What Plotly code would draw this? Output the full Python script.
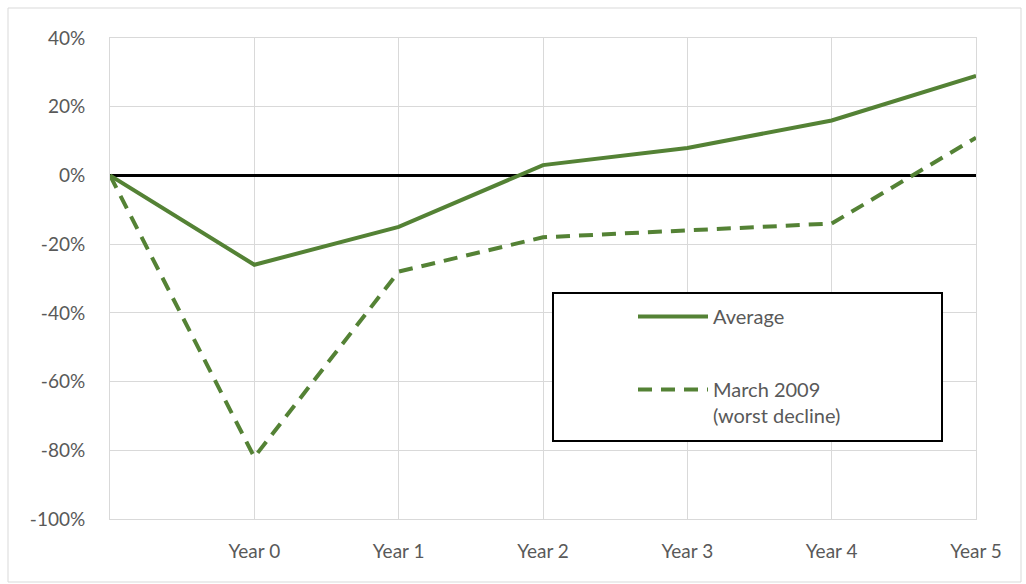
import plotly.graph_objects as go

categories = ["", "Year 0", "Year 1", "Year 2", "Year 3", "Year 4", "Year 5"]
average = [0, -26, -15, 3, 8, 16, 29]
march_2009 = [0, -82, -28, -18, -16, -14, 11]
y_ticks = [40, 20, 0, -20, -40, -60, -80, -100]
y_tick_labels = [f"{v}%" for v in y_ticks]

GREEN = "#548235"
FONT = "Lato"
TXT = "#595959"

fig = go.Figure()
fig.add_trace(go.Scatter(
    x=categories, y=average, mode="lines", name="Average",
    line=dict(color=GREEN, width=4), legendgroup="a"))
fig.add_trace(go.Scatter(
    x=categories, y=march_2009, mode="lines", name="March 2009<br>(worst decline)",
    line=dict(color=GREEN, width=4, dash="14px,9px"), legendgroup="b"))

W, H = 1026, 584
L, R, T, B = 110, 50, 38, 65
pw, ph = W - L - R, H - T - B

def px_x(x):
    return (x - L) / pw

def px_y(y):
    return (H - B - y) / ph

fig.update_layout(
    width=W, height=H,
    margin=dict(l=L, r=R, t=T, b=B),
    paper_bgcolor="white", plot_bgcolor="white",
    font=dict(family=FONT, size=19, color=TXT),
    showlegend=True,
    legend=dict(
        x=px_x(633), y=px_y(297), xanchor="left", yanchor="top",
        bgcolor="rgba(0,0,0,0)", borderwidth=0,
        tracegroupgap=44, valign="top",
        font=dict(family=FONT, size=20, color=TXT),
        itemwidth=70,
    ),
    xaxis=dict(
        type="category", range=[0, 6], showgrid=True, gridcolor="#d9d9d9", gridwidth=1,
        showline=True, linecolor="#d9d9d9", linewidth=1, mirror=True,
        ticks="", ticklabelstandoff=15, zeroline=False,
        tickfont=dict(family=FONT, size=19, color=TXT),
    ),
    yaxis=dict(
        range=[-100, 40], tickvals=y_ticks, ticktext=y_tick_labels,
        showgrid=True, gridcolor="#d9d9d9", gridwidth=1,
        showline=True, linecolor="#d9d9d9", linewidth=1, mirror=True,
        zeroline=True, zerolinecolor="black", zerolinewidth=3,
        ticks="", ticklabelstandoff=20,
        tickfont=dict(family=FONT, size=19, color=TXT),
    ),
    shapes=[
        dict(type="rect", xref="paper", yref="paper",
             x0=px_x(553), x1=px_x(942), y0=px_y(441), y1=px_y(293),
             line=dict(color="black", width=2), fillcolor="white", layer="above"),
        dict(type="rect", xref="paper", yref="paper",
             x0=px_x(8), x1=px_x(1021), y0=px_y(582), y1=px_y(8),
             line=dict(color="#d9d9d9", width=1), fillcolor="rgba(0,0,0,0)", layer="below"),
    ],
)

fig.write_html("out.html")
